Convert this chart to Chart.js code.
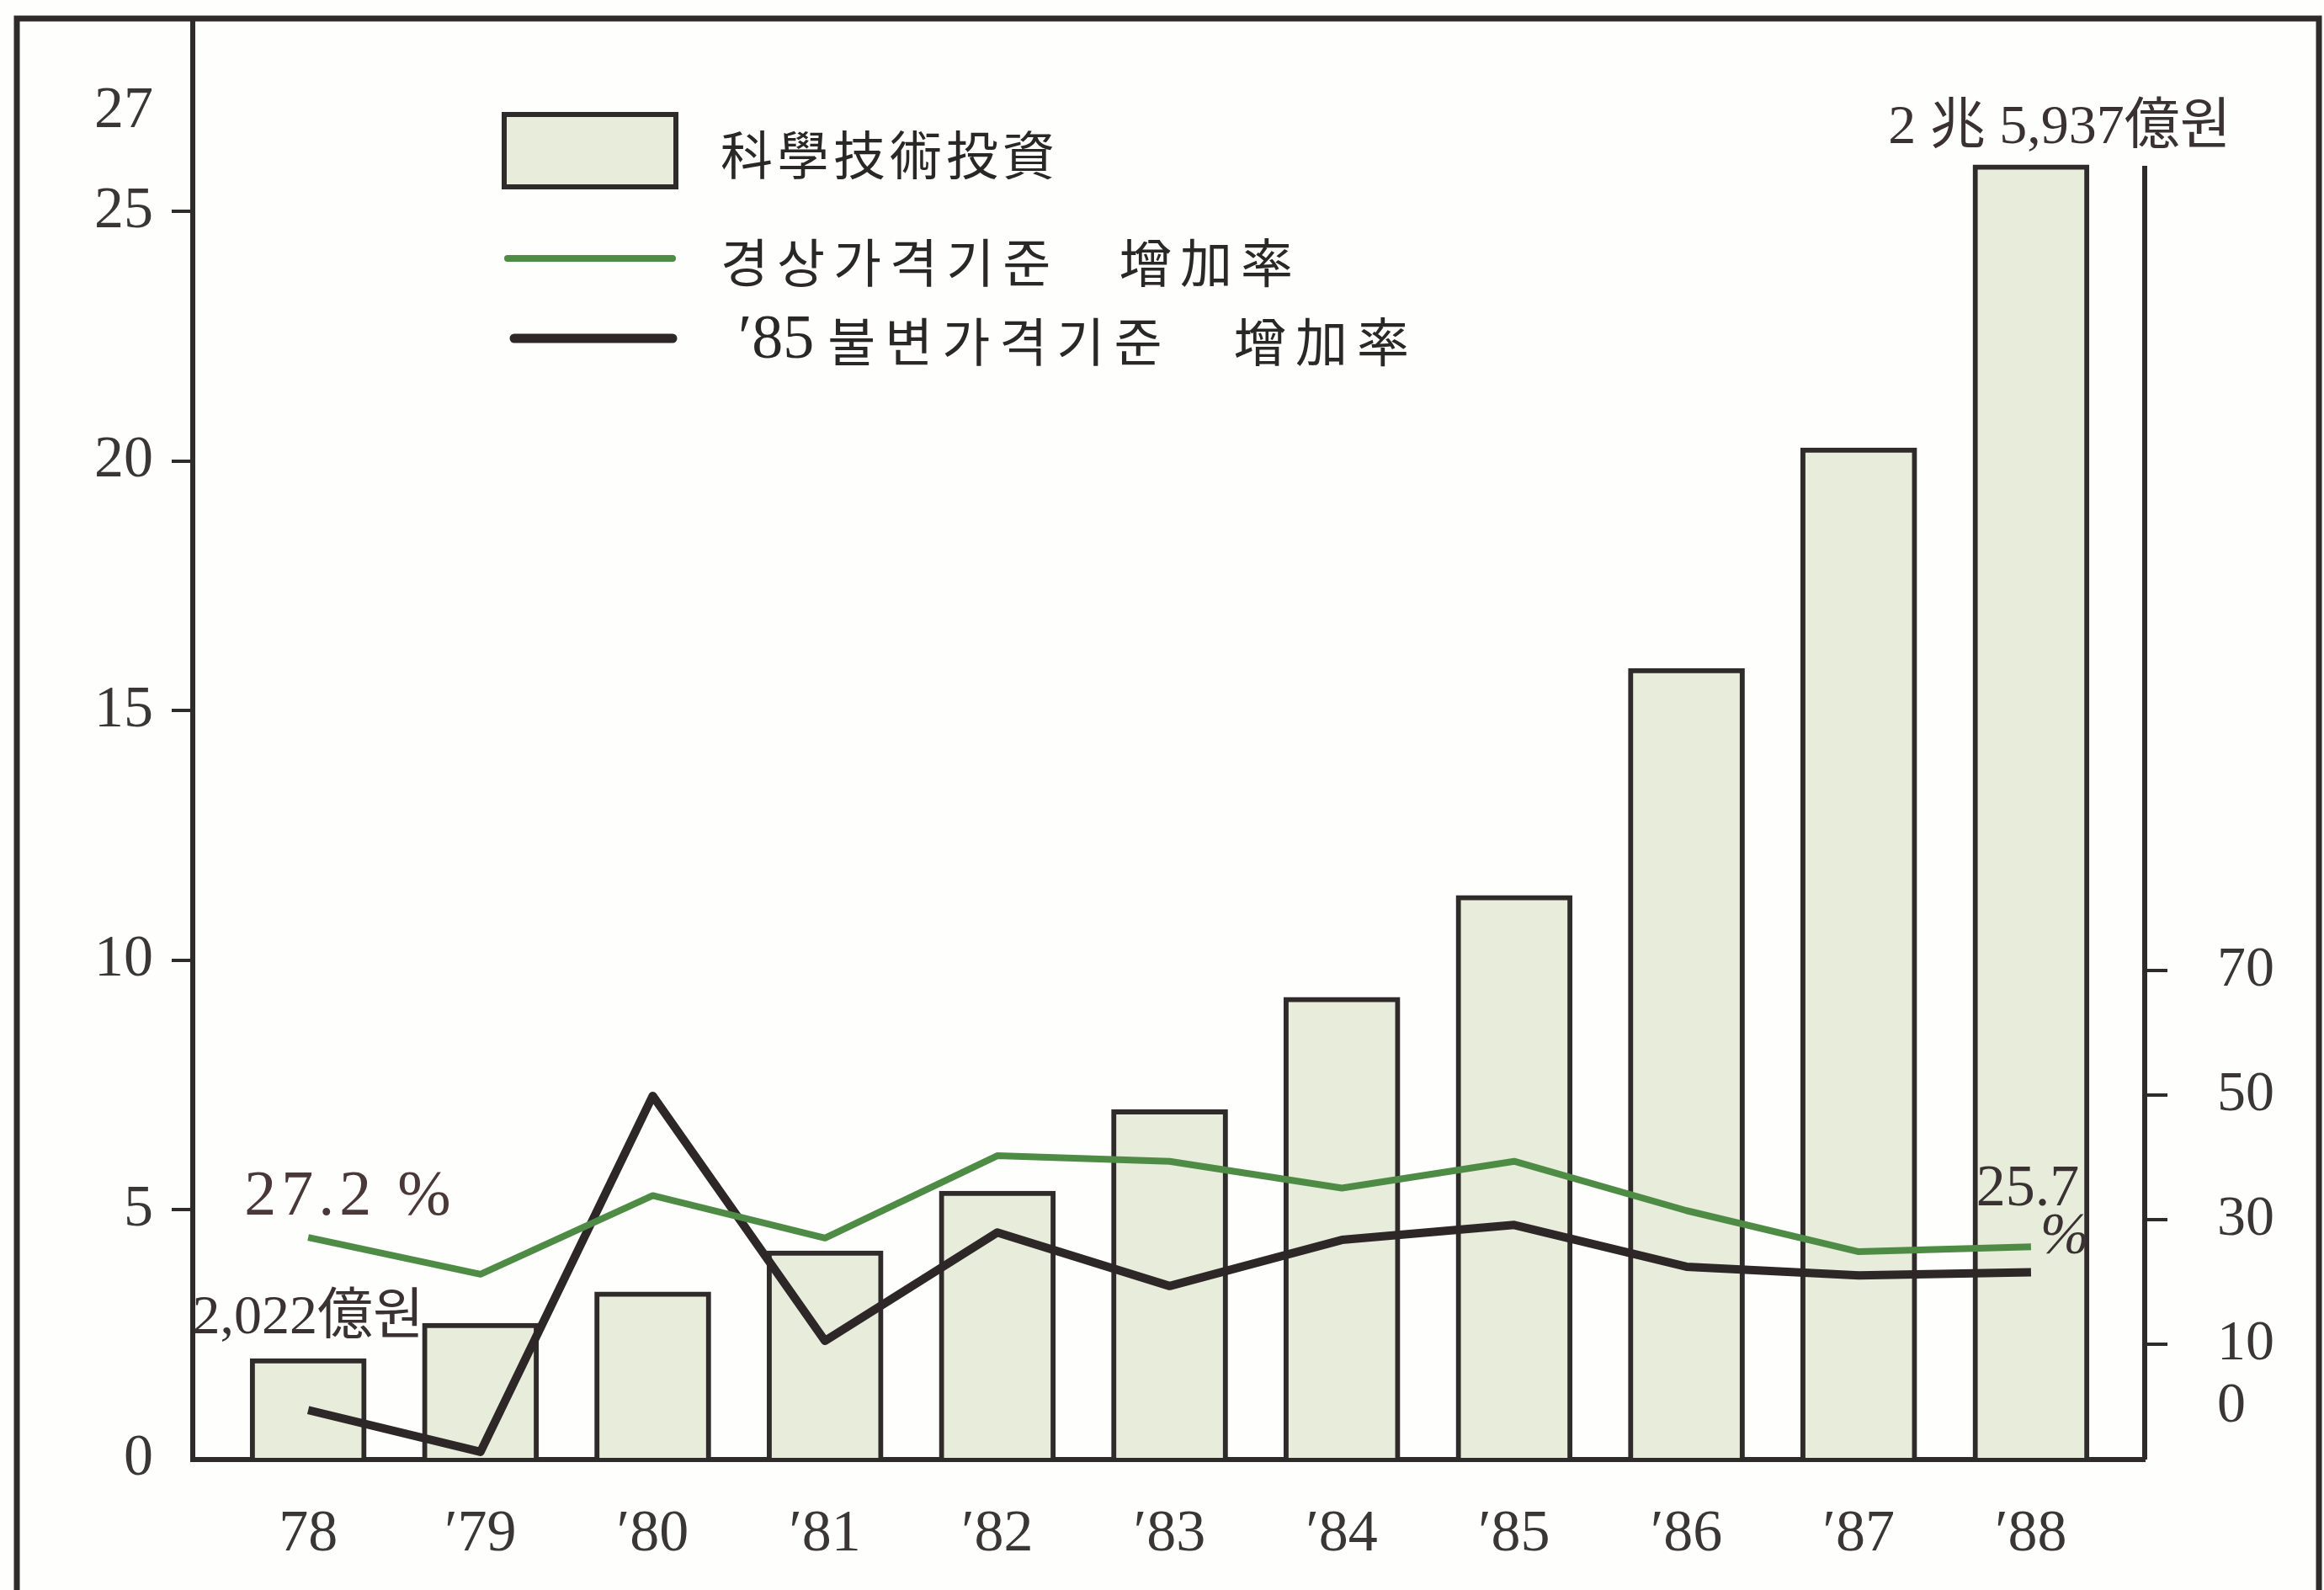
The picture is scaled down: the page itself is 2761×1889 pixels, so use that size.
<!DOCTYPE html>
<html>
<head>
<meta charset="utf-8">
<script src="https://cdn.jsdelivr.net/npm/chart.js@4.4.1/dist/chart.umd.min.js"></script>
<style>
  html, body { margin: 0; padding: 0; background: #fff; overflow: hidden; }
</style>
</head>
<body>
<canvas id="chart" width="2761" height="1889"></canvas>
<script>
// 연도 라벨
const years = ['78', '′79', '′80', '′81', '′82', '′83', '′84', '′85', '′86', '′87', '′88'];
// 科學技術投資 (천억원 단위)
const investment = [2.022, 2.73, 3.36, 4.18, 5.38, 7.01, 9.26, 11.3, 15.85, 20.27, 25.937];
// 경상가격기준 增加率 (%)
const nominalRate = [27.2, 21.3, 33.9, 27.1, 40.3, 39.4, 35.1, 39.4, 31.5, 24.9, 25.7];
// '85 불변가격기준 增加率 (%)
const realRate = [-0.5, -7.2, 49.9, 10.6, 28.0, 19.4, 26.8, 29.2, 22.5, 21.1, 21.6];
// 눈금
const leftTicks = [0, 5, 10, 15, 20, 25, 27];
const rightTicks = [0, 10, 30, 50, 70];

const ink = '#2f2b2b';
const digits = '"Liberation Serif"';
const cjk = '"Noto Sans CJK KR"';
const none = 'rgba(0,0,0,0)';

const toPoints = arr => arr.map((v, i) => ({ x: i, y: v }));

// 축 안쪽 여백 없애기
const noPad = s => {
    s.paddingTop = 0;
    s.paddingBottom = 0;
    s.paddingLeft = 0;
    s.paddingRight = 0;
};

// 테두리, 범례, 주석
const decor = {
    id: 'decor',
    beforeDraw(chart) {
        const ctx = chart.ctx;
        ctx.save();
        ctx.fillStyle = '#fefefd';
        ctx.fillRect(0, 0, chart.width, chart.height);
        ctx.restore();
    },
    afterDraw(chart) {
        const { ctx, chartArea: a } = chart;
        ctx.save();
        ctx.strokeStyle = ink;

        // 바깥 테두리
        ctx.lineWidth = 7;
        ctx.beginPath();
        ctx.moveTo(20, chart.height);
        ctx.lineTo(20, a.top);
        ctx.lineTo(2755, a.top);
        ctx.lineTo(2755, chart.height);
        ctx.stroke();

        // 오른쪽 축선
        ctx.lineWidth = 6;
        ctx.beginPath();
        ctx.moveTo(a.right, a.top + 175);
        ctx.lineTo(a.right, a.bottom);
        ctx.stroke();

        // 범례
        const lx = a.left + 370;
        const ly = a.top;
        ctx.fillStyle = '#e7ecdb';
        ctx.fillRect(lx, ly + 114, 204, 86);
        ctx.lineWidth = 6;
        ctx.strokeRect(lx, ly + 114, 204, 86);

        ctx.lineCap = 'round';
        ctx.strokeStyle = '#4e8c45';
        ctx.lineWidth = 8;
        ctx.beginPath();
        ctx.moveTo(lx + 4, ly + 285);
        ctx.lineTo(lx + 200, ly + 285);
        ctx.stroke();

        ctx.strokeStyle = '#2d2727';
        ctx.lineWidth = 11;
        ctx.beginPath();
        ctx.moveTo(lx + 12, ly + 380);
        ctx.lineTo(lx + 200, ly + 380);
        ctx.stroke();

        ctx.fillStyle = '#2a2727';
        ctx.textBaseline = 'middle';
        ctx.textAlign = 'left';
        ctx.font = '62px ' + cjk;
        const sets = chart.data.datasets;
        ctx.letterSpacing = '5px';
        ctx.fillText(sets[2].label, lx + 257, ly + 162);
        ctx.letterSpacing = '10px';
        ctx.fillText(sets[0].label, lx + 257, ly + 290);
        const third = sets[1].label;
        const cut = third.indexOf(' ');
        ctx.letterSpacing = '0px';
        ctx.font = '74px ' + digits;
        ctx.fillText(third.slice(0, cut), lx + 278, ly + 384);
        const w = ctx.measureText(third.slice(0, cut)).width;
        ctx.font = '62px ' + cjk;
        ctx.letterSpacing = '11px';
        ctx.fillText(third.slice(cut + 1), lx + 278 + w + 16, ly + 384);
        ctx.letterSpacing = '0px';

        // 주석
        const g = chart.getDatasetMeta(0).data;
        const b = chart.getDatasetMeta(2).data;
        ctx.fillStyle = '#4a3838';
        ctx.textAlign = 'left';
        ctx.font = '76px ' + digits;
        ctx.letterSpacing = '6px';
        ctx.fillText(nominalRate[0] + ' %', g[0].x - 76, g[0].y - 47);
        ctx.letterSpacing = '0px';

        ctx.fillStyle = '#3a3232';
        ctx.textAlign = 'center';
        ctx.font = '66px ' + digits + ', ' + cjk;
        ctx.fillText('2,022億원', b[0].x, b[0].y - 47);
        ctx.fillText('2 兆 5,937億원', b[10].x + 34, b[10].y - 43);

        ctx.font = '70px ' + digits;
        ctx.fillText(String(nominalRate[10]), g[10].x - 4, g[10].y - 68);
        ctx.font = 'italic 70px ' + digits;
        ctx.fillText('%', g[10].x + 40, g[10].y - 11);
        ctx.restore();
    }
};

new Chart(document.getElementById('chart'), {
    type: 'bar',
    data: {
        datasets: [
            {
                type: 'line',
                label: '경상가격기준   增加率',
                data: toPoints(nominalRate),
                yAxisID: 'y2',
                borderColor: '#4e8c45',
                borderWidth: 8,
                pointRadius: 0,
                tension: 0,
                borderJoinStyle: 'round',
                order: 1
            },
            {
                type: 'line',
                label: '′85 불변가격기준   增加率',
                data: toPoints(realRate),
                yAxisID: 'y2',
                borderColor: '#2d2727',
                borderWidth: 10,
                pointRadius: 0,
                tension: 0,
                borderJoinStyle: 'round',
                order: 1
            },
            {
                type: 'bar',
                label: '科學技術投資',
                data: toPoints(investment),
                yAxisID: 'y',
                backgroundColor: '#e7ecdb',
                borderColor: ink,
                borderWidth: 6,
                barThickness: 138,
                order: 2
            }
        ]
    },
    options: {
        responsive: false,
        animation: false,
        devicePixelRatio: 1,
        layout: { padding: { top: 22, left: 0, right: 0, bottom: 0 } },
        plugins: {
            legend: { display: false },
            tooltip: { enabled: false }
        },
        scales: {
            x: {
                type: 'linear',
                offset: false,
                min: -0.67,
                max: 10.66,
                afterBuildTicks: s => { s.ticks = years.map((_, i) => ({ value: i })); },
                afterFit: s => { s.height = 155; noPad(s); },
                grid: { display: false, drawTicks: false, offset: false },
                border: { display: true, color: ink, width: 6 },
                ticks: {
                    callback: v => years[v],
                    padding: 48,
                    color: '#3a3636',
                    maxRotation: 0,
                    autoSkip: false,
                    font: { family: digits, size: 70 }
                }
            },
            y: {
                position: 'left',
                min: 0,
                max: 28.87,
                afterBuildTicks: s => { s.ticks = leftTicks.map(v => ({ value: v })); },
                afterFit: s => { s.width = 229; noPad(s); },
                grid: {
                    drawOnChartArea: false,
                    tickLength: 25,
                    lineWidth: 4,
                    color: c => (c.tick && (c.tick.value === 0 || c.tick.value === 27)) ? none : ink
                },
                border: { display: true, color: ink, width: 6 },
                ticks: {
                    padding: 22,
                    color: '#3a3636',
                    font: { family: digits, size: 70 }
                }
            },
            y2: {
                position: 'right',
                min: -8.43,
                max: 222.7,
                afterBuildTicks: s => { s.ticks = rightTicks.map(v => ({ value: v })); },
                afterFit: s => { s.width = 213; noPad(s); },
                grid: {
                    drawOnChartArea: false,
                    tickLength: 27,
                    lineWidth: 4,
                    color: c => (c.tick && c.tick.value === 0) ? none : ink
                },
                border: { display: false },
                ticks: {
                    padding: 59,
                    color: '#3a3636',
                    font: { family: digits, size: 68 }
                }
            }
        }
    },
    plugins: [decor]
});
</script>
</body>
</html>
